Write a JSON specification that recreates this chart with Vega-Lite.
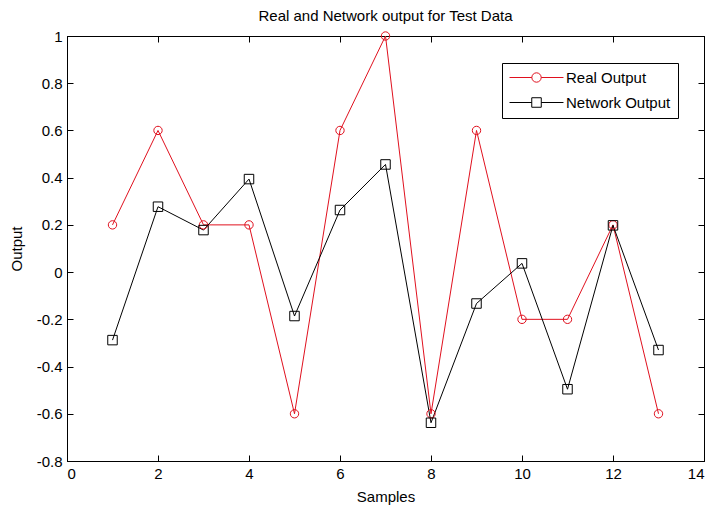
{
  "$schema": "https://vega.github.io/schema/vega-lite/v6.json",
  "width": 637,
  "height": 425,
  "autosize": {"type": "none"},
  "padding": {"left": 67, "top": 36, "right": 7, "bottom": 44},
  "background": "white",
  "title": {"text": "Real and Network output for Test Data", "fontSize": 15, "fontWeight": "normal", "font": "Liberation Sans", "color": "black", "offset": 5},
  "data": {"values": [
    {"sample": 1, "series": "Real Output", "value": 0.2},
    {"sample": 2, "series": "Real Output", "value": 0.6},
    {"sample": 3, "series": "Real Output", "value": 0.2},
    {"sample": 4, "series": "Real Output", "value": 0.2},
    {"sample": 5, "series": "Real Output", "value": -0.6},
    {"sample": 6, "series": "Real Output", "value": 0.6},
    {"sample": 7, "series": "Real Output", "value": 1.0},
    {"sample": 8, "series": "Real Output", "value": -0.6},
    {"sample": 9, "series": "Real Output", "value": 0.6},
    {"sample": 10, "series": "Real Output", "value": -0.2},
    {"sample": 11, "series": "Real Output", "value": -0.2},
    {"sample": 12, "series": "Real Output", "value": 0.2},
    {"sample": 13, "series": "Real Output", "value": -0.6},
    {"sample": 1, "series": "Network Output", "value": -0.288},
    {"sample": 2, "series": "Network Output", "value": 0.277},
    {"sample": 3, "series": "Network Output", "value": 0.178},
    {"sample": 4, "series": "Network Output", "value": 0.394},
    {"sample": 5, "series": "Network Output", "value": -0.186},
    {"sample": 6, "series": "Network Output", "value": 0.263},
    {"sample": 7, "series": "Network Output", "value": 0.456},
    {"sample": 8, "series": "Network Output", "value": -0.638},
    {"sample": 9, "series": "Network Output", "value": -0.133},
    {"sample": 10, "series": "Network Output", "value": 0.037},
    {"sample": 11, "series": "Network Output", "value": -0.496},
    {"sample": 12, "series": "Network Output", "value": 0.198},
    {"sample": 13, "series": "Network Output", "value": -0.33}
  ]},
  "layer": [
    {
      "transform": [{"filter": "datum.series === 'Real Output'"}],
      "mark": {"type": "line", "color": "#e0101e", "strokeWidth": 1},
      "encoding": {
        "x": {"field": "sample", "type": "quantitative", "scale": {"domain": [0, 14], "nice": false, "zero": false},
              "axis": {"orient": "bottom", "title": "Samples", "values": [0, 2, 4, 6, 8, 10, 12, 14], "labelExpr": "'' + datum.value", "titlePadding": 8}},
        "y": {"field": "value", "type": "quantitative", "scale": {"domain": [-0.8, 1], "nice": false, "zero": false},
              "axis": {"orient": "left", "title": "Output", "values": [-0.8, -0.6, -0.4, -0.2, 0, 0.2, 0.4, 0.6, 0.8, 1], "labelExpr": "'' + datum.value", "titlePadding": 12}}
      }
    },
    {
      "transform": [{"filter": "datum.series === 'Network Output'"}],
      "mark": {"type": "line", "color": "black", "strokeWidth": 1},
      "encoding": {
        "x": {"field": "sample", "type": "quantitative",
              "axis": {"orient": "top", "title": null, "labels": false, "values": [0, 2, 4, 6, 8, 10, 12, 14]}},
        "y": {"field": "value", "type": "quantitative",
              "axis": {"orient": "right", "title": null, "labels": false, "values": [-0.8, -0.6, -0.4, -0.2, 0, 0.2, 0.4, 0.6, 0.8, 1]}}
      }
    },
    {
      "transform": [{"filter": "datum.series === 'Real Output'"}],
      "mark": {"type": "point", "shape": "circle", "filled": false, "color": "#e0101e", "size": 70, "strokeWidth": 1, "opacity": 1},
      "encoding": {
        "x": {"field": "sample", "type": "quantitative", "axis": null},
        "y": {"field": "value", "type": "quantitative", "axis": null}
      }
    },
    {
      "transform": [{"filter": "datum.series === 'Network Output'"}],
      "mark": {"type": "point", "shape": "square", "filled": false, "color": "black", "size": 90, "strokeWidth": 1, "opacity": 1},
      "encoding": {
        "x": {"field": "sample", "type": "quantitative", "axis": null},
        "y": {"field": "value", "type": "quantitative", "axis": null}
      }
    },
    {
      "mark": {"type": "point", "filled": false, "opacity": 0, "strokeWidth": 1},
      "encoding": {
        "x": {"field": "sample", "type": "quantitative", "axis": null},
        "y": {"field": "value", "type": "quantitative", "axis": null},
        "stroke": {"field": "series", "type": "nominal",
                   "scale": {"domain": ["Real Output", "Network Output"], "range": ["#e0101e", "black"]},
                   "legend": {"title": null}},
        "shape": {"field": "series", "type": "nominal",
                  "scale": {"domain": ["Real Output", "Network Output"],
                            "range": ["M-1,0H2.19M3.53,0H6.71M3.53,0A0.67,0.67 0 1,0 2.19,0A0.67,0.67 0 1,0 3.53,0",
                                      "M-1,0H2.18M3.54,0H6.71M2.18,-0.68H3.54V0.68H2.18Z"]},
                  "legend": {"title": null}}
      }
    }
  ],
  "resolve": {"axis": {"x": "independent", "y": "independent"}},
  "config": {
    "font": "Liberation Sans",
    "view": {"stroke": "black", "strokeWidth": 1},
    "axis": {
      "grid": false,
      "domainColor": "black",
      "domainWidth": 1,
      "tickColor": "black",
      "tickWidth": 1,
      "tickSize": -6,
      "labelPadding": 11,
      "labelFont": "Liberation Sans",
      "labelFontSize": 15,
      "labelColor": "black",
      "titleFont": "Liberation Sans",
      "titleFontSize": 15,
      "titleFontWeight": "normal",
      "titleColor": "black"
    },
    "legend": {
      "orient": "none",
      "legendX": 435,
      "legendY": 27,
      "padding": 7,
      "strokeColor": "black",
      "fillColor": "white",
      "symbolSize": 196,
      "symbolOpacity": 1,
      "symbolStrokeWidth": 1,
      "symbolFillColor": "transparent",
      "labelFont": "Liberation Sans",
      "labelFontSize": 15,
      "labelColor": "black",
      "labelOffset": 42,
      "rowPadding": 9
    }
  }
}
